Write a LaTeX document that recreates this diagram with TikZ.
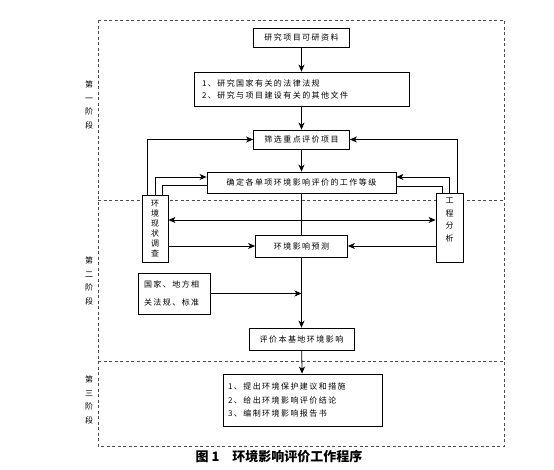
\documentclass[tikz,border=0pt]{standalone}
\usepackage{fontspec}
\usetikzlibrary{arrows.meta}
\newfontfamily\cjk[LetterSpace=18]{Noto Sans CJK SC}
\newfontfamily\capfont{Noto Sans CJK SC}

\tikzset{
  box/.style={draw, fill=white, line width=0.8pt, inner sep=0pt, align=center,
    font=\cjk\fontsize{8}{10}\selectfont},
  arr/.style={line width=0.8pt, -{Stealth[length=7pt, width=6pt, inset=2pt]}},
  arrs/.style={line width=0.8pt, {Stealth[length=7pt, width=6pt, inset=2pt]}-{Stealth[length=7pt, width=6pt, inset=2pt]}},
  link/.style={line width=0.8pt},
  frame/.style={draw=black!70, line width=0.8pt, dash pattern=on 3pt off 2.5pt},
  stage/.style={inner sep=0pt, align=center, font=\cjk\fontsize{8}{13.5}\selectfont},
}

\begin{document}
\begin{tikzpicture}[x=1pt, y=-1pt, line join=miter]
  %% ════ 虚线外框与阶段分隔 ════
  \draw[frame] (98,20) rectangle (504,446);
  \draw[frame] (98,200) -- (504,200);
  \draw[frame] (98,361) -- (504,361);

  \node[stage] (stage1) at (89,105) {第\\一\\阶\\段};
  \node[stage] (stage2) at (89,281) {第\\二\\阶\\段};
  \node[stage] (stage3) at (89,400) {第\\三\\阶\\段};

  %% ════ 中轴方框 ════
  \node[box, minimum width=96, minimum height=19] (src) at (301.5,37.5) {研究项目可研资料};
  \node[box, align=left, text width=199, inner xsep=8, minimum height=34,
        font=\cjk\fontsize{8}{12}\selectfont] (law) at (301.5,89)
        {1、研究国家有关的法律法规\\2、研究与项目建设有关的其他文件};
  \node[box, minimum width=96, minimum height=19] (screen) at (301.5,139.5) {筛选重点评价项目};
  \node[box, minimum width=189, minimum height=21] (grade) at (301.5,182.5) {确定各单项环境影响评价的工作等级};
  \node[box, minimum width=92, minimum height=22] (pred) at (301.5,246) {环境影响预测};
  \node[box, minimum width=105, minimum height=22] (eval) at (301.5,339) {评价本基地环境影响};
  \node[box, align=left, text width=149, inner xsep=5, minimum height=52,
        font=\cjk\fontsize{8}{13.5}\selectfont] (final) at (302.5,400)
        {1、提出环境保护建议和措施\\2、给出环境影响评价结论\\3、编制环境影响报告书};

  %% ════ 两侧方框（白底，盖住虚线）════
  \node[box, minimum width=26, minimum height=67] (survey) at (155,228.5) {环\\境\\现\\状\\调\\查};
  \node[box, minimum width=27, minimum height=69,
        label={[stage, font=\cjk\fontsize{8}{12.5}\selectfont, anchor=north, yshift=-5pt]north:工\\程\\分\\析}]
        (eng) at (449.5,227.5) {};
  \node[box, align=left, text width=60, inner xsep=6, minimum height=41,
        font=\cjk\fontsize{8}{18}\selectfont] (std) at (174,293.5) {国家、地方相\\关法规、标准};

  %% ════ 中轴连线 ════
  \draw[arr] (src) -- (law);
  \draw[arr] (law) -- (screen);
  \draw[arr] (screen) -- (grade);
  \draw[link] (grade) -- (pred);
  \draw[arr] (pred) -- (eval);
  \draw[arr] (std.east) -- (std.east -| pred.south);
  \draw[arr] (eval) -- (final);

  %% ════ 左侧回路 ════
  \draw[arr] ([xshift=-8pt]survey.north) |- (screen.west);
  \draw[arr] (survey.north) |- ([yshift=5.5pt]grade.west);
  \draw[link] ([yshift=-2.5pt]grade.west) -| ([xshift=7pt]survey.north);

  %% ════ 右侧回路 ════
  \draw[arr] ([xshift=7.5pt]eng.north) |- (screen.east);
  \draw[arr] (eng.north) |- ([yshift=5.5pt]grade.east);
  \draw[link] ([yshift=-3.5pt]grade.east) -| ([xshift=-7.5pt]eng.north);

  %% ════ 中部横线 ════
  \draw[arrs] ([yshift=8.5pt]survey.east) -- ([yshift=8.5pt]survey.east -| eng.west);
  \draw[arr] (survey.east |- pred.west) -- (pred.west);
  \draw[arr] (eng.west |- pred.east) -- (pred.east);

  %% ════ 图题 ════
  \node[inner sep=0pt, font=\capfont\bfseries\fontsize{13}{15}\selectfont] (caption) at (279,457)
        {图 1\quad 环境影响评价工作程序};

  % 钉死画布
  \pgfresetboundingbox
  \path[use as bounding box] (0,0) rectangle (554,469);
\end{tikzpicture}
\end{document}
